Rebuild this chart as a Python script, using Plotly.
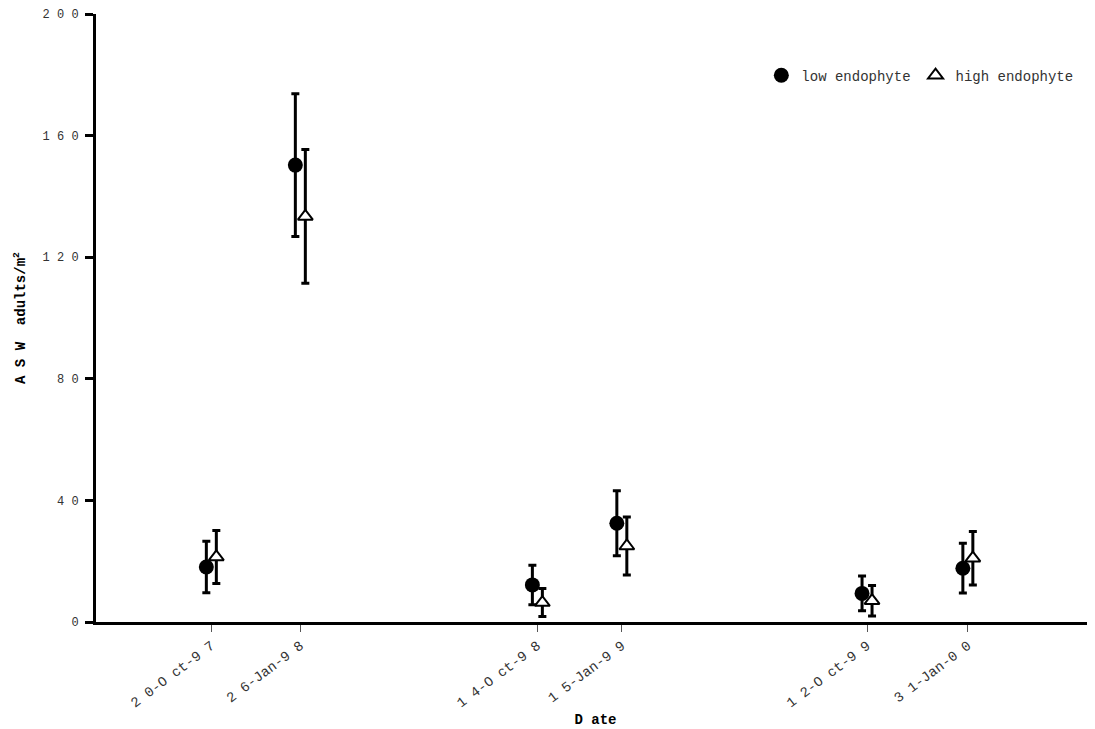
import plotly.graph_objects as go
import pandas as pd

dates = ["1997-10-20", "1998-01-26", "1998-10-14", "1999-01-15", "1999-10-12", "2000-01-31"]
date_labels = ["2 0-O ct-9 7", "2 6-Jan-9 8", "1 4-O ct-9 8", "1 5-Jan-9 9", "1 2-O ct-9 9", "3 1-Jan-0 0"]

low_mean = [18.1, 150.3, 12.2, 32.5, 9.4, 17.7]
low_err = [8.5, 23.5, 6.5, 10.7, 5.7, 8.2]
high_mean = [21.4, 133.4, 6.4, 25.0, 7.0, 21.0]
high_err = [8.7, 22.0, 4.6, 9.5, 5.0, 8.8]

y_ticks = [0, 40, 80, 120, 160, 200]
y_tick_labels = ["0", "4 0", "8 0", "1 2 0", "1 6 0", "2 0 0"]

FONT = "Liberation Mono"
offset = pd.Timedelta(days=5.5)
d = pd.to_datetime(pd.Series(dates))
x_low = d - offset
x_high = d + offset

fig = go.Figure()
fig.add_trace(go.Scatter(
    x=x_low, y=low_mean, mode="markers", name="low endophyte",
    marker=dict(symbol="circle", size=15, color="black"),
    error_y=dict(type="data", array=low_err, visible=True, color="black", thickness=3, width=4),
))
fig.add_trace(go.Scatter(
    x=x_high, y=high_mean, mode="markers", name="high endophyte",
    marker=dict(symbol="triangle-up", size=13, color="white", line=dict(color="black", width=2)),
    error_y=dict(type="data", array=high_err, visible=True, color="black", thickness=3, width=4),
))

fig.update_layout(
    width=1087, height=721,
    margin=dict(l=88, r=0, t=6, b=107, autoexpand=False),
    plot_bgcolor="white", paper_bgcolor="white",
    font=dict(family=FONT, size=12, color="#333333"),
    legend=dict(orientation="h", x=0.666, y=0.925, xanchor="left", yanchor="top",
                font=dict(family=FONT, size=14, color="#333333"),
                bgcolor="rgba(0,0,0,0)", itemwidth=30, tracegroupgap=0),
    xaxis=dict(
        type="date", automargin=False,
        range=["1997-06-15", "2000-06-19"],
        tickmode="array", tickvals=d, ticktext=date_labels,
        tickangle=-37,
        ticks="outside", ticklen=7, tickwidth=1, tickcolor="#555555",
        showline=True, linecolor="black", linewidth=3,
        showgrid=False, zeroline=False,
        tickfont=dict(family=FONT, size=14, color="#333333"),
        title=dict(text="<b>D ate</b>", font=dict(family=FONT, size=14, color="black"), standoff=4),
    ),
    yaxis=dict(
        range=[0, 200], automargin=False,
        tickmode="array", tickvals=y_ticks, ticktext=y_tick_labels,
        ticks="outside", ticklen=8, tickwidth=3, tickcolor="black",
        showline=True, linecolor="black", linewidth=3,
        showgrid=False, zeroline=False, ticklabelstandoff=4,
        tickfont=dict(family=FONT, size=12, color="#333333"),
        title=dict(text="<b>A S W  adults/m<sup>2</sup></b>", font=dict(family=FONT, size=14, color="black"), standoff=14),
    ),
)

fig.write_html("out.html")
